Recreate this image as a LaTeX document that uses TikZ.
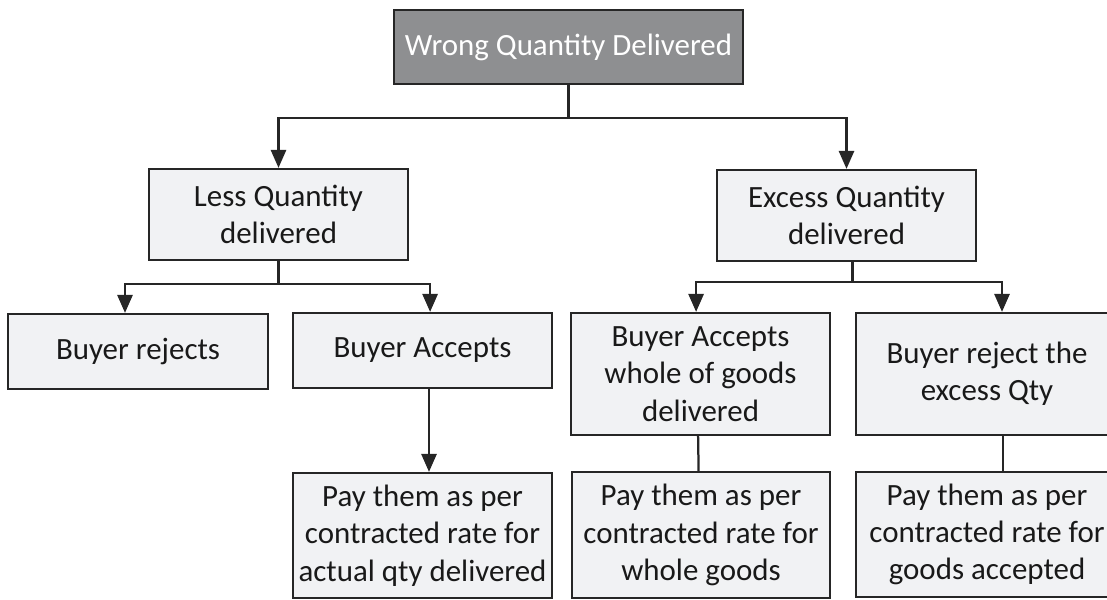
\documentclass[tikz,border=0pt]{standalone}
\usepackage{fontspec}
\setmainfont{Carlito}
\usepackage{tikz}
\usetikzlibrary{positioning,calc,arrows.meta}
\definecolor{headgray}{HTML}{8E8F91}
\definecolor{boxgray}{HTML}{F1F2F4}
\definecolor{edgeblack}{HTML}{262626}
\newcommand{\qtyNode}[5]{\node[qbox, minimum width=#2cm, minimum height=#3cm] (#1) at (#4) {#5};}

\begin{document}
\begin{tikzpicture}[font=\fontsize{22}{26.5}\selectfont,
	qbox/.style={draw=edgeblack, fill=boxgray, line width=1.6pt, align=center, inner sep=0pt, text=black!90},
	headbox/.style={qbox, fill=headgray, text=white},
	link/.style={draw=edgeblack, line width=1.6pt},
	arr/.style={link, -{Triangle[length=0.45cm, width=0.38cm]}}]
	\useasboundingbox (0,0) rectangle (27.675,14.975);
	\node[headbox, minimum width=8.725cm, minimum height=1.85cm] (wrong) at (14.2125,13.8) {Wrong Quantity Delivered};
	\qtyNode{less}{6.475}{2.275}{6.9625,9.6125}{Less Quantity\\delivered}
	\qtyNode{excess}{6.475}{2.275}{21.1625,9.5875}{Excess Quantity\\delivered}
	\qtyNode{rejects}{6.5}{1.875}{3.45,6.1875}{Buyer rejects}
	\qtyNode{accepts}{6.475}{1.875}{10.5625,6.2125}{Buyer Accepts}
	\qtyNode{whole}{6.475}{3.05}{17.5125,5.625}{Buyer Accepts\\whole of goods\\delivered}
	\qtyNode{rejectx}{6.55}{3.05}{24.675,5.625}{Buyer reject the\\excess Qty}
	\qtyNode{payl}{6.475}{3.125}{10.5625,1.5875}{Pay them as per\\contracted rate for\\actual qty delivered}
	\qtyNode{payw}{6.45}{3.15}{17.525,1.6}{Pay them as per\\contracted rate for\\whole goods}
	\qtyNode{payx}{6.55}{3.125}{24.675,1.6125}{Pay them as per\\contracted rate for\\goods accepted}
	% branches
	\draw[arr] (wrong.south) -- ++(0,-0.825) -| (less.north);
	\draw[arr] (wrong.south) -- ++(0,-0.825) -| (excess.north);
	\draw[arr] (less.south) -- ++(0,-0.575) -| ([xshift=-0.325cm]rejects.north);
	\draw[arr] (less.south) -- ++(0,-0.575) -| ([xshift=0.19cm]accepts.north);
	\draw[arr] ([xshift=0.15cm]excess.south) -- ++(0,-0.5) -| ([xshift=-0.11cm]whole.north);
	\draw[arr] ([xshift=0.15cm]excess.south) -- ++(0,-0.5) -| ([xshift=0.375cm]rejectx.north);
	\draw[arr] ([xshift=0.1625cm]accepts.south) -- ([xshift=0.1625cm]payl.north);
	\draw[link] ([xshift=-0.06cm]whole.south) -- ([xshift=-0.06cm]payw.north);
	\draw[link] ([xshift=0.4cm]rejectx.south) -- ([xshift=0.4cm]payx.north);
\end{tikzpicture}
\end{document}
